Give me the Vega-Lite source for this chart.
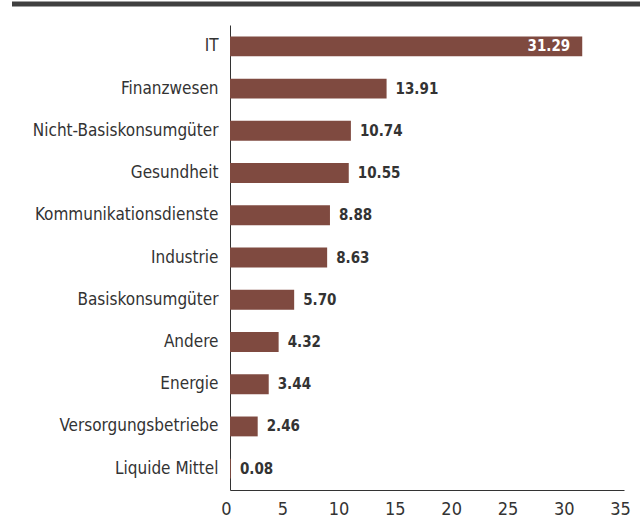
{
  "$schema": "https://vega.github.io/schema/vega-lite/v6.json",
  "width": 394,
  "height": 465,
  "autosize": {"type": "none"},
  "padding": {"left": 230, "top": 25, "right": 19, "bottom": 42},
  "background": "white",
  "config": {
    "view": {"stroke": null},
    "font": "DejaVu Sans Condensed"
  },
  "data": {
    "values": [
      {"sector": "IT", "value": 31.29},
      {"sector": "Finanzwesen", "value": 13.91},
      {"sector": "Nicht-Basiskonsumgüter", "value": 10.74},
      {"sector": "Gesundheit", "value": 10.55},
      {"sector": "Kommunikationsdienste", "value": 8.88},
      {"sector": "Industrie", "value": 8.63},
      {"sector": "Basiskonsumgüter", "value": 5.70},
      {"sector": "Andere", "value": 4.32},
      {"sector": "Energie", "value": 3.44},
      {"sector": "Versorgungsbetriebe", "value": 2.46},
      {"sector": "Liquide Mittel", "value": 0.08}
    ]
  },
  "encoding": {
    "y": {
      "field": "sector",
      "type": "nominal",
      "sort": null,
      "scale": {"paddingInner": 0.53, "paddingOuter": 0.27},
      "axis": {
        "title": null,
        "ticks": false,
        "domainColor": "#333333",
        "domainWidth": 1,
        "labelFont": "DejaVu Sans Condensed",
        "labelFontSize": 17,
        "labelColor": "#333333",
        "labelPadding": 12,
        "labelLimit": 300
      }
    },
    "x": {
      "field": "value",
      "type": "quantitative",
      "scale": {"domain": [0, 35], "nice": false},
      "axis": {
        "title": null,
        "values": [0, 5, 10, 15, 20, 25, 30, 35],
        "grid": false,
        "ticks": false,
        "domainColor": "#333333",
        "domainWidth": 1,
        "labelFont": "DejaVu Sans Condensed",
        "labelFontSize": 18,
        "labelColor": "#333333",
        "labelPadding": 10,
        "labelOffset": -4,
        "labelFlush": false,
        "labelOverlap": false
      }
    }
  },
  "layer": [
    {
      "mark": {"type": "bar", "color": "#7F4A40"}
    },
    {
      "transform": [{"filter": "datum.value < 30"}],
      "mark": {"type": "text", "align": "left", "baseline": "middle", "dx": 9, "fontSize": 15, "fontWeight": "bold", "color": "#333333", "font": "DejaVu Sans Condensed"},
      "encoding": {"text": {"field": "value", "type": "quantitative", "format": ".2f"}}
    },
    {
      "transform": [{"filter": "datum.value >= 30"}],
      "mark": {"type": "text", "align": "right", "baseline": "middle", "dx": -12, "fontSize": 15, "fontWeight": "bold", "color": "white", "font": "DejaVu Sans Condensed"},
      "encoding": {"text": {"field": "value", "type": "quantitative", "format": ".2f"}}
    },
    {
      "data": {"values": [{}]},
      "mark": {"type": "rule", "color": "#404040", "strokeWidth": 5},
      "encoding": {
        "x": {"value": -218},
        "x2": {"value": 410},
        "y": {"value": -21}
      }
    }
  ]
}
